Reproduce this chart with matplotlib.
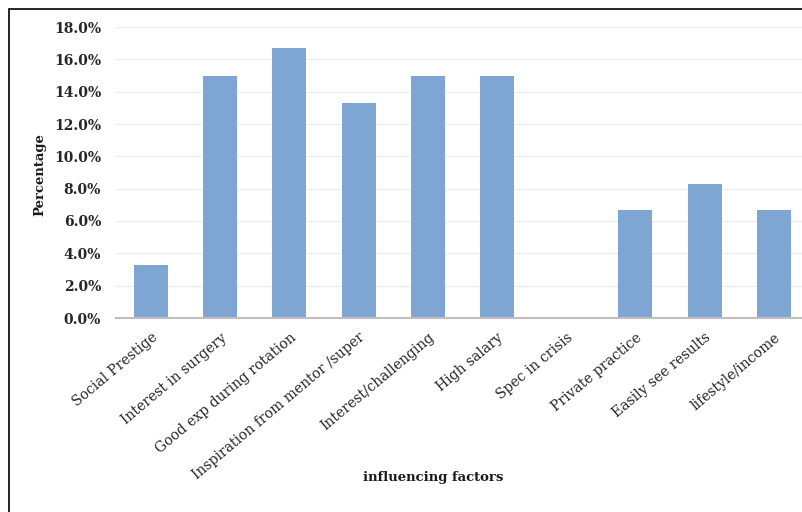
import matplotlib.pyplot as plt
from matplotlib.patches import Rectangle
from matplotlib.ticker import FuncFormatter

factors = ['Social Prestige', 'Interest in surgery', 'Good exp during rotation',
           'Inspiration from mentor /super', 'Interest/challenging', 'High salary',
           'Spec in crisis', 'Private practice', 'Easily see results', 'lifestyle/income']
percent = [3.3, 15.0, 16.7, 13.3, 15.0, 15.0, 0.0, 6.7, 8.3, 6.7]
y_ticks = [0, 2, 4, 6, 8, 10, 12, 14, 16, 18]

W, H = 802, 512
fig = plt.figure(figsize=(W / 100, H / 100), dpi=100)
ax = fig.add_axes([116.4 / W, 1 - 318 / H, 692 / W, 291 / H])

ax.bar(range(len(factors)), percent, width=0.49, color='#7fa5d2', zorder=2)

ax.set_xlim(-0.5, len(factors) - 0.5)
ax.set_ylim(0, 18)
ax.set_yticks(y_ticks)
ax.yaxis.set_major_formatter(FuncFormatter(lambda v, p: f'{v:.1f}%'))
ax.grid(axis='y', color='#ececec', linewidth=1, zorder=0)
ax.set_axisbelow(True)

for s in ['top', 'right', 'left']:
    ax.spines[s].set_visible(False)
ax.spines['bottom'].set_color('#bfbfbf')
ax.spines['bottom'].set_linewidth(1.5)
ax.tick_params(axis='both', length=0)
ax.tick_params(axis='y', pad=11)
ax.tick_params(axis='x', pad=9)

ax.set_xticks(range(len(factors)))
ax.set_xticklabels(factors, rotation=40, ha='right', rotation_mode='anchor',
                   family='DejaVu Serif', fontsize=10, color='#262626')
for lab in ax.get_yticklabels():
    lab.set_family('DejaVu Serif')
    lab.set_fontweight('bold')
    lab.set_fontsize(10)
    lab.set_color('#262626')

fig.text(433 / W, 1 - 477 / H, 'influencing factors', ha='center', va='center',
         family='DejaVu Serif', fontweight='bold', fontsize=9.5, color='#1a1a1a')
fig.text(40 / W, 1 - 175 / H, 'Percentage', ha='center', va='center', rotation=90,
         family='DejaVu Serif', fontweight='bold', fontsize=9.5, color='#1a1a1a')

# frame of the cropped figure (only top and left edges visible)
fig.patches.append(Rectangle((8.5 / W, -0.1), 1.1, 1 - 8.5 / H + 0.1, transform=fig.transFigure,
                             fill=False, edgecolor='black', linewidth=1.2))

fig.savefig('out.png', dpi=100)
